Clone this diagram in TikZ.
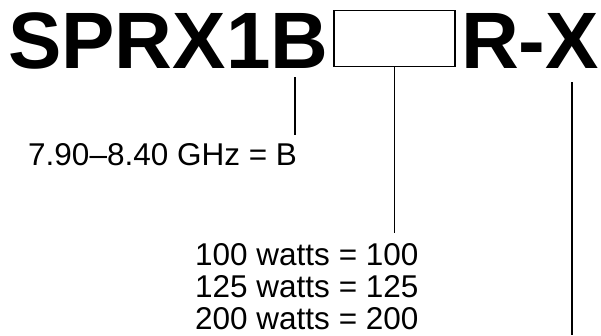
\documentclass[tikz,border=0pt]{standalone}
\usepackage{fontspec}
\setmainfont{Liberation Sans}
\usetikzlibrary{positioning}
\tikzset{
  >=latex,
}

\begin{document}
\begin{tikzpicture}[x=1pt, y=-1pt,
  code/.style={font=\fontsize{80}{96}\selectfont\bfseries, inner sep=0pt, anchor=base west},
  lbl/.style={font=\fontsize{31.5}{32}\selectfont, inner sep=0pt, align=left},
  lead/.style={line width=1.5pt}
]
  \useasboundingbox (0,0) rectangle (601,335);
  \node[code] (pre) at (8,68) {SPRX1B};
  \node[draw, line width=1.5pt, minimum width=121pt, minimum height=56pt, inner sep=0pt] (slot) at (394.5,38.5) {};
  \node[code] (suf) at (461,68) {R-X};
  \node[lbl, anchor=base west] (band) at (28,165) {7.90--8.40 GHz = B};
  \node[lbl, anchor=north west] (power) at (195,243) {100 watts = 100\\125 watts = 125\\200 watts = 200};
  \coordinate (btop) at (295,77);
  \coordinate (xtop) at (572,82);
  \coordinate (xbot) at (572,335);
  \draw[lead] (btop) -- ([yshift=8pt]btop |- band.north);
  \draw[lead] (slot.south) -- ([yshift=10pt]slot.south |- power.north);
  \draw[lead] (xtop) -- (xbot);
\end{tikzpicture}
\end{document}
